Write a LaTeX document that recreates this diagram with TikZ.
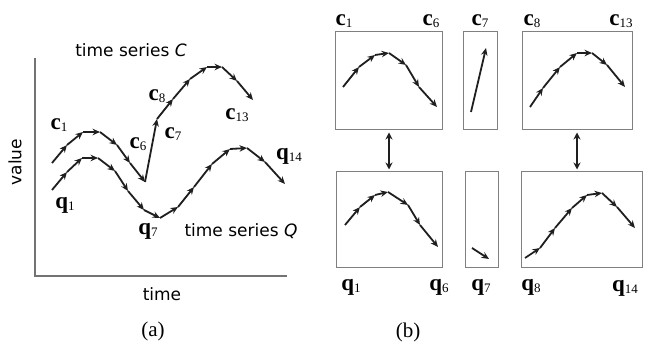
\documentclass[tikz,border=0pt]{standalone}
\usepackage{fontspec}
\setmainfont{Liberation Serif}
\newfontfamily\axisfont{DejaVu Sans}
\usetikzlibrary{arrows.meta}

% bold point label with a small lowered index
\newcommand{\ptlab}[2]{\textbf{#1}{\fontsize{13}{13}\selectfont\raisebox{-0.45ex}{#2}}}
% a run of arrowed segments, from (#1,#2) through the points in #3
\newcommand{\tsline}[3]{%
    \foreach \px/\py [remember=\px as \ox (initially #1),
                      remember=\py as \oy (initially #2)] in {#3}
        \draw[seg] (\ox,\oy) -- (\px,\py);}

\begin{document}
\begin{tikzpicture}[x=1pt,y=-1pt,>=Stealth]
    \tikzset{
        seg/.style={-{Stealth[length=7.5pt,width=6.5pt,inset=2.5pt]},line width=1.8pt,color=black!88},
        box/.style={draw=black!50,line width=1pt,inner sep=0pt},
        link/.style={{Stealth[length=7pt,width=7pt]}-{Stealth[length=7pt,width=7pt]},
            line width=1.8pt,color=black!88,shorten <=2pt,shorten >=2pt},
        axis/.style={draw=black!55,line width=1.6pt},
        lbl/.style={inner sep=0pt,font=\fontsize{23}{23}\selectfont},
        sans/.style={inner sep=0pt,font=\axisfont\fontsize{17}{17}\selectfont},
        caption/.style={inner sep=0pt,font=\fontsize{21}{21}\selectfont}
    }
    \useasboundingbox (0,0) rectangle (662,347);

    % (a) the two series
    \coordinate (origin) at (35,276);
    \draw[axis] (35,58) -- (origin) -- (287,276);
    \node[sans,rotate=90] (value) at (15,162) {value};
    \node[sans] (time) at (162,294) {time};
    \node[caption] (capa) at (153,331) {(a)};

    \tsline{52}{163}{67/145, 83/132, 100/132, 117/145, 130/163, 145/182}
    \tsline{145}{182}{157/119}
    \tsline{157}{119}{173/99, 190/79, 207/67, 222/67, 237/81, 253/100}

    \tsline{52}{190}{67/172, 82/158, 98/158, 115/171, 128/191, 144/210}
    \tsline{144}{210}{160/218}
    \tsline{160}{218}{178/207, 194/187, 212/164, 230/149, 247/148, 265/162, 285/184}

    \node[sans] (nameC) at (131,50) {time series \textit{C}};
    \node[sans] (nameQ) at (241,231) {time series \textit{Q}};

    \node[lbl] (ac1) at (59,125) {\ptlab{c}{1}};
    \node[lbl] (ac6) at (138,144) {\ptlab{c}{6}};
    \node[lbl] (ac8) at (157,96) {\ptlab{c}{8}};
    \node[lbl] (ac7) at (173,134) {\ptlab{c}{7}};
    \node[lbl] (ac13) at (237,115) {\ptlab{c}{13}};
    \node[lbl] (aq1) at (65,205) {\ptlab{q}{1}};
    \node[lbl] (aq7) at (148,231) {\ptlab{q}{7}};
    \node[lbl] (aq14) at (289,156) {\ptlab{q}{14}};

    % (b) the matched pieces
    \node[box,minimum width=107,minimum height=98] (bc1) at (389,81) {};
    \node[box,minimum width=34,minimum height=98] (bc7) at (480,81) {};
    \node[box,minimum width=110,minimum height=98] (bc8) at (577,81) {};
    \node[box,minimum width=106,minimum height=96] (bq1) at (389,220) {};
    \node[box,minimum width=33,minimum height=96] (bq7) at (481.5,220) {};
    \node[box,minimum width=121,minimum height=96] (bq8) at (581.5,220) {};

    \tsline{343}{87}{359/67, 375/55, 389/53, 406/65, 419/87, 437/107}
    \tsline{471}{112}{486/48}
    \tsline{530}{107}{543/88, 560/67, 577/53, 592/53, 607/65, 625/87}
    \tsline{345}{225}{360/207, 375/195, 388/192, 408/205, 420/225, 438/247}
    \tsline{472}{248}{489/259}
    \tsline{525}{258}{540/248, 555/228, 572/208, 587/195, 602/193, 617/207, 635/228}

    \draw[link] (bc1.south) -- (bc1.south |- bq1.north);
    \draw[link] (bc8.south) -- (bc8.south |- bq8.north);

    \node[lbl] (bc1l) at (344,21) {\ptlab{c}{1}};
    \node[lbl] (bc6l) at (431,21) {\ptlab{c}{6}};
    \node[lbl] (bc7l) at (480,21) {\ptlab{c}{7}};
    \node[lbl] (bc8l) at (532,21) {\ptlab{c}{8}};
    \node[lbl] (bc13l) at (621,21) {\ptlab{c}{13}};
    \node[lbl] (bq1l) at (351,287) {\ptlab{q}{1}};
    \node[lbl] (bq6l) at (439,287) {\ptlab{q}{6}};
    \node[lbl] (bq7l) at (481,287) {\ptlab{q}{7}};
    \node[lbl] (bq8l) at (531,287) {\ptlab{q}{8}};
    \node[lbl] (bq14l) at (625,288) {\ptlab{q}{14}};
    \node[caption] (capb) at (408,332) {(b)};
\end{tikzpicture}
\end{document}
